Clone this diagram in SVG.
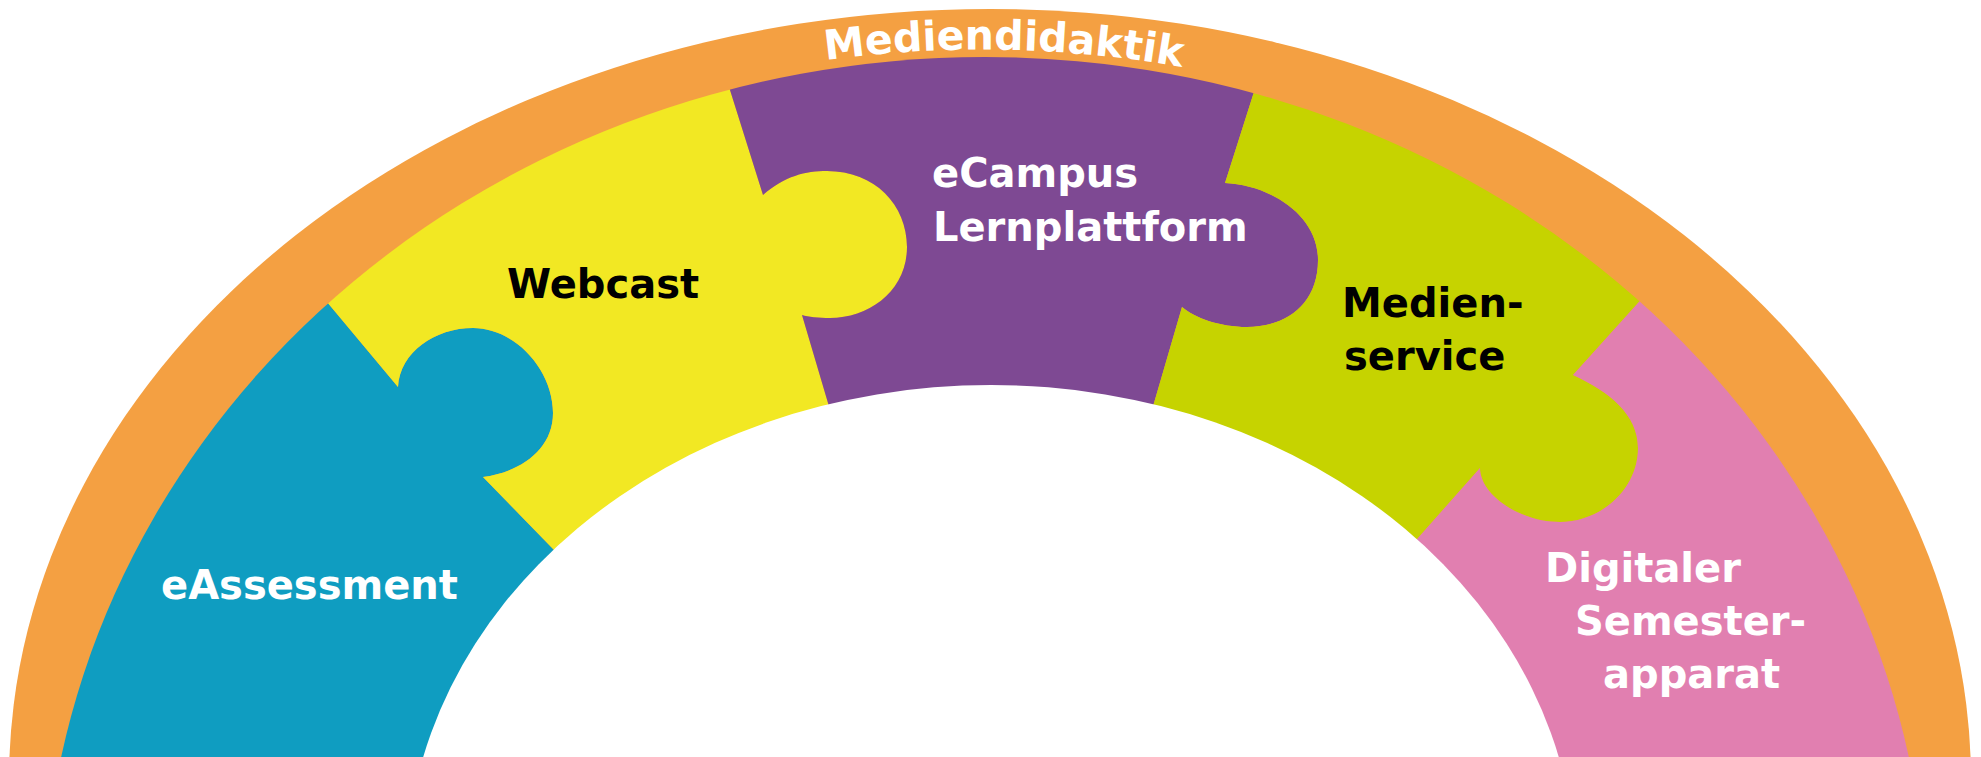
<svg xmlns="http://www.w3.org/2000/svg" width="1981" height="757" viewBox="0 0 1981 757">
<style>
.lbl{font-family:"DejaVu Sans","Liberation Sans",sans-serif;font-weight:bold;font-size:40px}
.w{fill:#ffffff}
.k{fill:#000000}
.title{font-family:"DejaVu Sans","Liberation Sans",sans-serif;font-weight:bold;font-size:41px;fill:#ffffff}
</style>
<defs>
<clipPath id="band"><ellipse cx="985" cy="927" rx="942" ry="870"/></clipPath>
<path id="titlePath" d="M 780 67.4 A 1150 1150 0 0 1 1230 76.7"/>
</defs>
<rect x="0" y="0" width="1981" height="757" fill="#ffffff"/>
<g id="mediendidaktik">
<ellipse cx="990" cy="780" rx="981" ry="771" fill="#F4A042"/>
<text class="title"><textPath href="#titlePath" startOffset="46">Mediendidaktik</textPath></text>
</g>
<g id="eassessment">
<path clip-path="url(#band)" fill="#0F9DC1" d="M 256 217 L 327 302 L 398 387 C 400 352 435 328 473 328 C 515 328 553 370 553 413 C 553 450 520 472 483 477 L 555 551 L 627 625 L 627 800 L -50 800 L -50 217 Z"/>
</g>
<g id="webcast">
<path clip-path="url(#band)" fill="#F2E823" d="M 256 217 L 327 302 L 398 387 C 400 352 435 328 473 328 C 515 328 553 370 553 413 C 553 450 520 472 483 477 L 555 551 L 627 625 L 845 460 L 828 403 L 802 315 C 808 317 818 318 830 318 C 870 318 907 290 907 247 C 907 205 875 171 827 171 C 805 171 785 176 763 195 L 730 90 L 697 -15 Z"/>
</g>
<g id="ecampus">
<path clip-path="url(#band)" fill="#7E4993" d="M 697 -15 L 730 90 L 763 195 C 785 176 805 171 827 171 C 875 171 907 205 907 247 C 907 290 870 318 830 318 C 818 318 808 317 802 315 L 828 403 L 845 460 L 1140 450 L 1154 403 L 1182 307 C 1195 318 1220 327 1247 327 C 1285 327 1318 305 1318 260 C 1318 215 1270 185 1225 183 L 1253 95 L 1281 7 L 1281 -50 L 697 -50 Z"/>
</g>
<g id="medienservice">
<path clip-path="url(#band)" fill="#C6D300" d="M 1281 7 L 1253 95 L 1225 183 C 1270 185 1318 215 1318 260 C 1318 305 1285 327 1247 327 C 1220 327 1195 318 1182 307 L 1154 403 L 1140 450 L 1370 592 L 1410 547 L 1480 468 C 1480 495 1520 522 1560 522 C 1600 522 1638 490 1638 448 C 1638 415 1610 392 1573 375 L 1638 303 L 1703 231 Z"/>
</g>
<g id="semesterapparat">
<path clip-path="url(#band)" fill="#E17FB0" d="M 1703 231 L 1638 303 L 1573 375 C 1610 392 1638 415 1638 448 C 1638 490 1600 522 1560 522 C 1520 522 1480 495 1480 468 L 1410 547 L 1370 592 L 1370 800 L 2050 800 L 2050 231 Z"/>
</g>
<ellipse id="inner-space" cx="991" cy="875" rx="585" ry="490" fill="#ffffff"/>
<g id="labels">
<text class="lbl w" x="161" y="599">eAssessment</text>
<text class="lbl k" x="507" y="298">Webcast</text>
<text class="lbl w" x="932" y="187">eCampus</text>
<text class="lbl w" x="933" y="241">Lernplattform</text>
<text class="lbl k" x="1342" y="317">Medien-</text>
<text class="lbl k" x="1344" y="370">service</text>
<text class="lbl w" x="1545" y="582">Digitaler</text>
<text class="lbl w" x="1575" y="635">Semester-</text>
<text class="lbl w" x="1603" y="688">apparat</text>
</g>
</svg>
